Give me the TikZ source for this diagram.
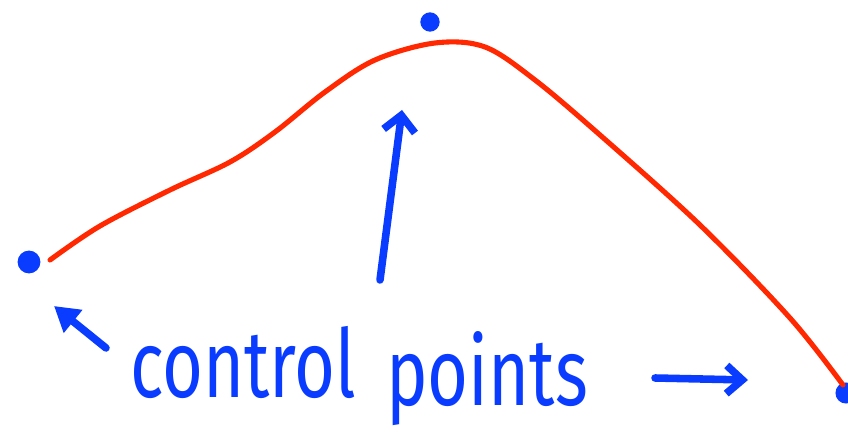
\documentclass[tikz,border=0pt]{standalone}
\usepackage{fontspec}
\setmainfont{Fira Sans}
\usepackage{tikz}
\usetikzlibrary{arrows.meta}
\definecolor{penblue}{RGB}{10,60,255}
\definecolor{penred}{RGB}{255,40,0}

\begin{document}
\begin{tikzpicture}[x=0.02cm,y=-0.02cm,
  cpoint/.style={circle,fill=penblue,inner sep=0pt,minimum size=#1},
  pen/.style={penblue,line width=4.3pt,line cap=round},
  word/.style={text=penblue,font=\fontsize{54}{54}\selectfont,inner sep=0pt,anchor=base west,xscale=0.74}]
  \useasboundingbox (0,0) rectangle (848,438);
  % the three control points
  \node[cpoint=13pt] (p0) at (29,262){};
  \node[cpoint=11pt] (p1) at (430,22){};
  \node[cpoint=12pt] (p2) at (846,393){};
  % curve
  \draw[penred,line width=2.9pt,line cap=round] plot[smooth,tension=0.55] coordinates
    {(50,260) (100,226) (170,190) (230,162) (275,132) (325,92) (375,60) (435,43) (485,47) (535,80) (600,135) (700,225) (790,318) (843,385)};
  % label
  \node[word] (ctrl) at (130,398){control};
  \node[word] (pts) at (386,406){points};
  \coordinate (a0) at (106,348);
  \coordinate (a1) at (380,280);
  \coordinate (a2) at (655,378);
  \draw[pen,-{Triangle[length=14pt,width=16pt]}] (a0) -- (54,306);
  \draw[pen,-{Straight Barb[length=9pt,width=18pt]}] (a1) -- (402,110);
  \draw[pen,-{Straight Barb[length=9pt,width=16pt]}] (a2) -- (748,380);
\end{tikzpicture}
\end{document}
